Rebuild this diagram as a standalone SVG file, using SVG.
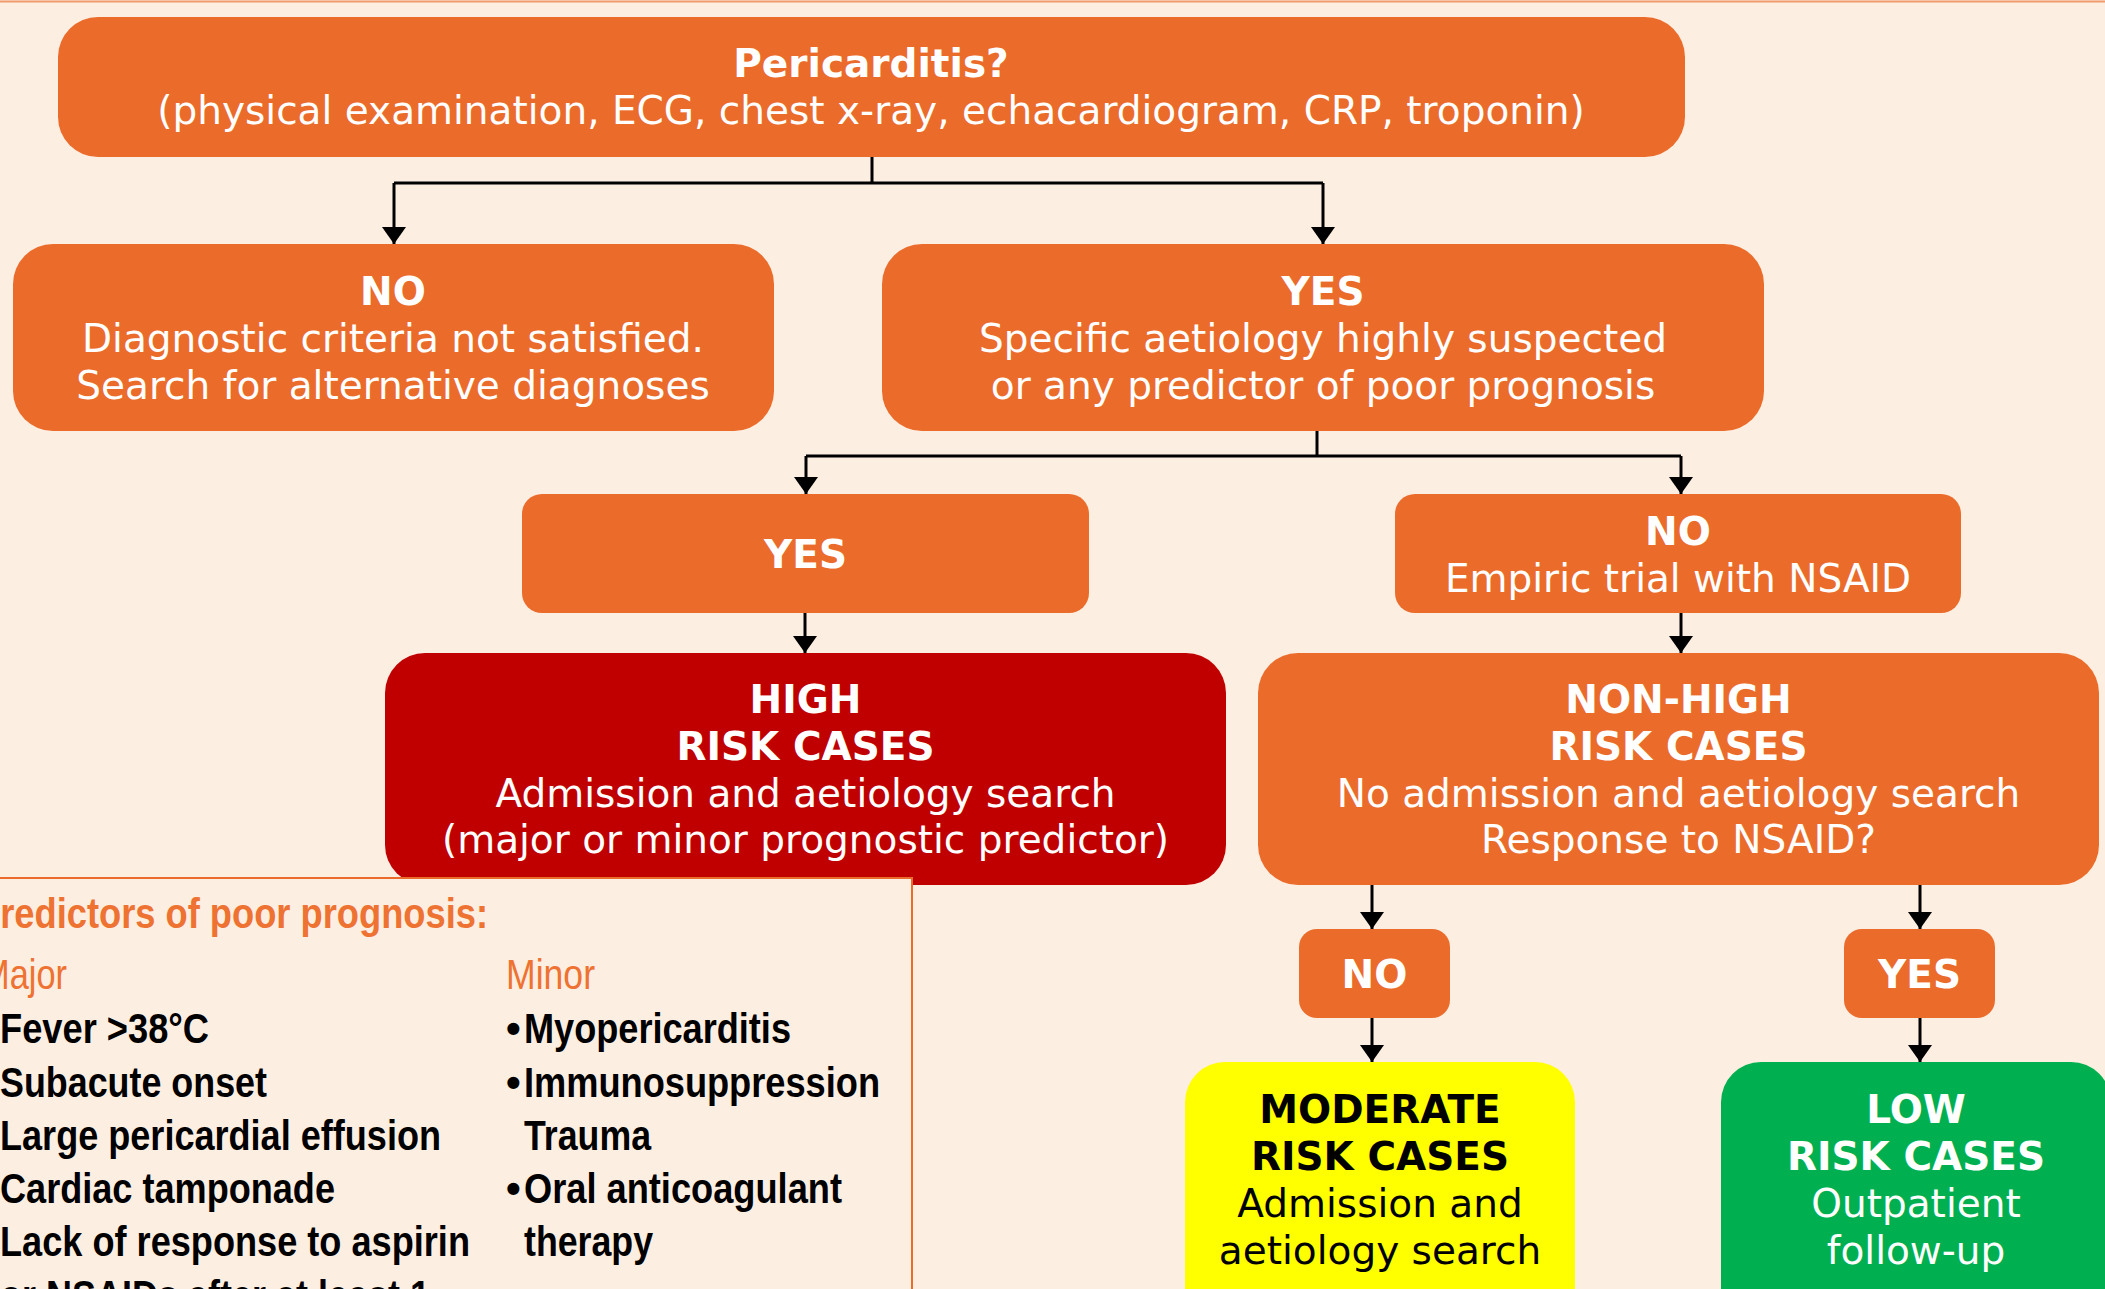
<svg xmlns="http://www.w3.org/2000/svg" width="2105" height="1289" viewBox="0 0 2105 1289">
<style>
.bg{fill:#FDEEE2}
.or{fill:#EB6B2B}
.red{fill:#C00000}
.yel{fill:#FFFF00}
.grn{fill:#00B050}
.t{font-family:"DejaVu Sans",Verdana,sans-serif;font-size:39px;fill:#FFFFFF;text-anchor:middle}
.b{font-weight:bold}
.k{fill:#000000}
.c{stroke:#000000;stroke-width:3;fill:none}
.n{font-family:"Liberation Sans",Arial,sans-serif;font-size:42px;font-weight:bold;fill:#000000}
.oh{fill:#EE7231}
.rg{font-weight:normal}
</style>
<defs>
<marker id="ah" markerUnits="userSpaceOnUse" markerWidth="17" markerHeight="24" refX="17" refY="12" orient="auto" viewBox="0 0 17 24">
<path d="M0,0 L17,12 L0,24 z" fill="#000000"/>
</marker>
</defs>
<rect class="bg" x="0" y="0" width="2105" height="1289"/>
<line x1="0" y1="1.5" x2="2105" y2="1.5" stroke="#EF9A6C" stroke-width="2"/>

<g id="connectors">
<path class="c" d="M872,157 V183"/>
<path class="c" d="M394,183 H1323"/>
<path class="c" d="M394,183 V244" marker-end="url(#ah)"/>
<path class="c" d="M1323,183 V244" marker-end="url(#ah)"/>
<path class="c" d="M1317,431 V456"/>
<path class="c" d="M806,456 H1681"/>
<path class="c" d="M806,456 V494" marker-end="url(#ah)"/>
<path class="c" d="M1681,456 V494" marker-end="url(#ah)"/>
<path class="c" d="M805,613 V653" marker-end="url(#ah)"/>
<path class="c" d="M1681,613 V653" marker-end="url(#ah)"/>
<path class="c" d="M1372,885 V929" marker-end="url(#ah)"/>
<path class="c" d="M1920,885 V929" marker-end="url(#ah)"/>
<path class="c" d="M1372,1018 V1062" marker-end="url(#ah)"/>
<path class="c" d="M1920,1018 V1062" marker-end="url(#ah)"/>
</g>

<g id="n-pericarditis">
<rect class="or" x="58" y="17" width="1627" height="140" rx="40"/>
<text class="t b" x="871" y="77">Pericarditis?</text>
<text class="t" x="871" y="124">(physical examination, ECG, chest x-ray, echacardiogram, CRP, troponin)</text>
</g>

<g id="n-no1">
<rect class="or" x="13" y="244" width="761" height="187" rx="40"/>
<text class="t b" x="393" y="305">NO</text>
<text class="t" x="393" y="352">Diagnostic criteria not satisfied.</text>
<text class="t" x="393" y="399">Search for alternative diagnoses</text>
</g>

<g id="n-yes1">
<rect class="or" x="882" y="244" width="882" height="187" rx="40"/>
<text class="t b" x="1323" y="305">YES</text>
<text class="t" x="1323" y="352">Specific aetiology highly suspected</text>
<text class="t" x="1323" y="399">or any predictor of poor prognosis</text>
</g>

<g id="n-yes2">
<rect class="or" x="522" y="494" width="567" height="119" rx="20"/>
<text class="t b" x="805.5" y="568">YES</text>
</g>

<g id="n-no2">
<rect class="or" x="1395" y="494" width="566" height="119" rx="20"/>
<text class="t b" x="1678" y="545">NO</text>
<text class="t" x="1678" y="592">Empiric trial with NSAID</text>
</g>

<g id="n-high">
<rect class="red" x="385" y="653" width="841" height="232" rx="40"/>
<text class="t b" x="805.5" y="713">HIGH</text>
<text class="t b" x="805.5" y="760">RISK CASES</text>
<text class="t" x="805.5" y="807">Admission and aetiology search</text>
<text class="t" x="805.5" y="853">(major or minor prognostic predictor)</text>
</g>

<g id="n-nonhigh">
<rect class="or" x="1258" y="653" width="841" height="232" rx="40"/>
<text class="t b" x="1678.5" y="713">NON-HIGH</text>
<text class="t b" x="1678.5" y="760">RISK CASES</text>
<text class="t" x="1678.5" y="807">No admission and aetiology search</text>
<text class="t" x="1678.5" y="853">Response to NSAID?</text>
</g>

<g id="n-no3">
<rect class="or" x="1299" y="929" width="151" height="89" rx="18"/>
<text class="t b" x="1374.5" y="988">NO</text>
</g>

<g id="n-yes3">
<rect class="or" x="1844" y="929" width="151" height="89" rx="18"/>
<text class="t b" x="1919.5" y="988">YES</text>
</g>

<g id="n-moderate">
<rect class="yel" x="1185" y="1062" width="390" height="270" rx="40"/>
<text class="t b k" x="1380" y="1123">MODERATE</text>
<text class="t b k" x="1380" y="1170">RISK CASES</text>
<text class="t k" x="1380" y="1217">Admission and</text>
<text class="t k" x="1380" y="1264">aetiology search</text>
</g>

<g id="n-low">
<rect class="grn" x="1721" y="1062" width="390" height="270" rx="40"/>
<text class="t b" x="1916" y="1123">LOW</text>
<text class="t b" x="1916" y="1170">RISK CASES</text>
<text class="t" x="1916" y="1217">Outpatient</text>
<text class="t" x="1916" y="1264">follow-up</text>
</g>

<g id="predictors">
<rect class="bg" x="-10" y="878" width="922" height="440" stroke="#EB6B2B" stroke-width="2"/>
<text class="n oh" x="-24" y="928" textLength="512" lengthAdjust="spacingAndGlyphs">Predictors of poor prognosis:</text>
<text class="n oh rg" x="-19" y="989" textLength="86" lengthAdjust="spacingAndGlyphs">Major</text>
<text class="n oh rg" x="506" y="989" textLength="89" lengthAdjust="spacingAndGlyphs">Minor</text>
<text class="n" x="0" y="1043" textLength="209" lengthAdjust="spacingAndGlyphs">Fever &gt;38°C</text>
<text class="n" x="0" y="1097" textLength="267" lengthAdjust="spacingAndGlyphs">Subacute onset</text>
<text class="n" x="0" y="1150" textLength="441" lengthAdjust="spacingAndGlyphs">Large pericardial effusion</text>
<text class="n" x="0" y="1203" textLength="335" lengthAdjust="spacingAndGlyphs">Cardiac tamponade</text>
<text class="n" x="0" y="1256" textLength="470" lengthAdjust="spacingAndGlyphs">Lack of response to aspirin</text>
<text class="n" x="0" y="1310" textLength="430" lengthAdjust="spacingAndGlyphs">or NSAIDs after at least 1</text>
<text class="n" x="506" y="1043">•</text>
<text class="n" x="524" y="1043" textLength="267" lengthAdjust="spacingAndGlyphs">Myopericarditis</text>
<text class="n" x="506" y="1097">•</text>
<text class="n" x="524" y="1097" textLength="356" lengthAdjust="spacingAndGlyphs">Immunosuppression</text>
<text class="n" x="524" y="1150" textLength="127" lengthAdjust="spacingAndGlyphs">Trauma</text>
<text class="n" x="506" y="1203">•</text>
<text class="n" x="524" y="1203" textLength="318" lengthAdjust="spacingAndGlyphs">Oral anticoagulant</text>
<text class="n" x="524" y="1256" textLength="129" lengthAdjust="spacingAndGlyphs">therapy</text>
</g>
</svg>
